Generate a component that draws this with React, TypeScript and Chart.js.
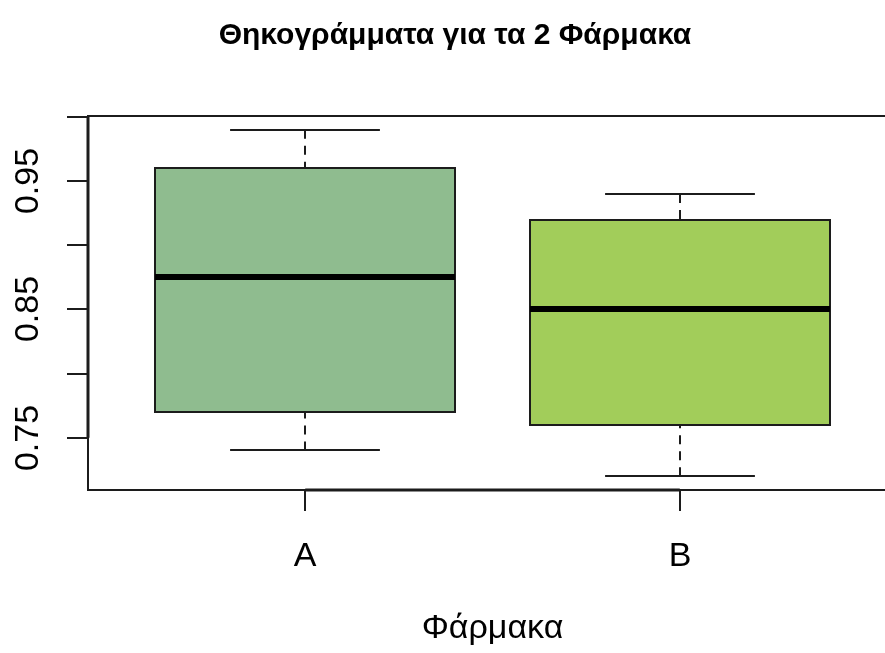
import { useEffect, useRef } from 'react';
import { Chart, registerables } from 'chart.js';

Chart.register(...registerables);

// Five-number summaries for each drug
const categories = ['A', 'B'];
const lowerWhisker = [0.74, 0.72];
const lowerQuartile = [0.77, 0.76];
const medians = [0.875, 0.85];
const upperQuartile = [0.96, 0.92];
const upperWhisker = [0.99, 0.94];
const boxColors = ['#8FBC8F', '#A2CD5A'];

const yTickValues = [0.75, 0.8, 0.85, 0.9, 0.95, 1.0];
const yTickLabels = ['0.75', '', '0.85', '', '0.95', ''];

const chartTitle = 'Θηκογράμματα για τα 2 Φάρμακα';
const xAxisTitle = 'Φάρμακα';

const FONT = '"Liberation Sans", Arimo, Arial, sans-serif';
const INK = '#1c1c1c';

// R-style extended ranges (4% padding)
const dataMin = Math.min(...lowerWhisker);
const dataMax = Math.max(...upperWhisker);
const yPad = (dataMax - dataMin) * 0.04;
const xPad = categories.length * 0.04;

const seg = (ctx: CanvasRenderingContext2D, x1: number, y1: number, x2: number, y2: number) => {
  ctx.beginPath();
  ctx.moveTo(x1, y1);
  ctx.lineTo(x2, y2);
  ctx.stroke();
};

const boxplotPlugin = {
  id: 'boxplotDecor',
  beforeDatasetsDraw(chart: any) {
    const { ctx } = chart;
    const x = chart.scales.x;
    const y = chart.scales.y;
    const unit = x.getPixelForValue(1) - x.getPixelForValue(0);
    ctx.save();
    ctx.lineCap = 'butt';
    categories.forEach((_, i) => {
      const cx = Math.round(x.getPixelForValue(i + 1));
      const capHalf = unit * 0.2;
      const boxHalf = unit * 0.4;
      ctx.strokeStyle = INK;
      ctx.lineWidth = 2;
      // dashed whiskers, running from the cap toward the box
      ctx.setLineDash([9, 7]);
      seg(ctx, cx, y.getPixelForValue(lowerWhisker[i]), cx, y.getPixelForValue(lowerQuartile[i]));
      seg(ctx, cx, y.getPixelForValue(upperWhisker[i]), cx, y.getPixelForValue(upperQuartile[i]));
      ctx.setLineDash([]);
      // whisker caps
      const lw = Math.round(y.getPixelForValue(lowerWhisker[i]));
      const uw = Math.round(y.getPixelForValue(upperWhisker[i]));
      seg(ctx, cx - capHalf, lw, cx + capHalf, lw);
      seg(ctx, cx - capHalf, uw, cx + capHalf, uw);
      // box from lower to upper quartile
      const top = Math.round(y.getPixelForValue(upperQuartile[i]));
      const bottom = Math.round(y.getPixelForValue(lowerQuartile[i]));
      const left = Math.round(cx - boxHalf);
      const right = Math.round(cx + boxHalf);
      ctx.fillStyle = boxColors[i];
      ctx.fillRect(left, top, right - left, bottom - top);
      ctx.strokeRect(left, top, right - left, bottom - top);
      // median
      ctx.strokeStyle = '#000';
      ctx.lineWidth = 6;
      const my = Math.round(y.getPixelForValue(medians[i]));
      seg(ctx, left, my, right, my);
    });
    ctx.restore();
  },
  afterDraw(chart: any) {
    const { ctx, chartArea } = chart;
    const x = chart.scales.x;
    const y = chart.scales.y;
    ctx.save();
    ctx.strokeStyle = INK;
    ctx.lineWidth = 2;
    // plot frame
    ctx.strokeRect(chartArea.left, chartArea.top, chartArea.right - chartArea.left, chartArea.bottom - chartArea.top);

    // y axis
    const yFirst = y.getPixelForValue(yTickValues[0]);
    const yLast = y.getPixelForValue(yTickValues[yTickValues.length - 1]);
    ctx.lineWidth = 3;
    seg(ctx, chartArea.left, yFirst, chartArea.left, yLast);
    ctx.lineWidth = 2;
    ctx.fillStyle = '#000';
    ctx.font = `34px ${FONT}`;
    yTickValues.forEach((v, i) => {
      const py = Math.round(y.getPixelForValue(v));
      seg(ctx, chartArea.left - 21, py, chartArea.left, py);
      if (yTickLabels[i]) {
        ctx.save();
        ctx.translate(38, py);
        ctx.rotate(-Math.PI / 2);
        ctx.textAlign = 'center';
        ctx.textBaseline = 'alphabetic';
        ctx.fillText(yTickLabels[i], 0, 0);
        ctx.restore();
      }
    });

    // x axis
    const xFirst = x.getPixelForValue(1);
    const xLast = x.getPixelForValue(categories.length);
    ctx.lineWidth = 3;
    seg(ctx, xFirst, chartArea.bottom, xLast, chartArea.bottom);
    ctx.lineWidth = 2;
    ctx.textAlign = 'center';
    ctx.textBaseline = 'alphabetic';
    categories.forEach((c, i) => {
      const px = Math.round(x.getPixelForValue(i + 1));
      seg(ctx, px, chartArea.bottom, px, chartArea.bottom + 21);
      ctx.fillText(c, px, 566);
    });

    // axis title
    const midX = (chartArea.left + chartArea.right) / 2;
    ctx.fillText(xAxisTitle, midX, 638);

    // main title
    ctx.font = `bold 30px ${FONT}`;
    ctx.fillText(chartTitle, 455, 44);
    ctx.restore();
  },
};

export default function App() {
  const canvasRef = useRef<HTMLCanvasElement | null>(null);

  useEffect(() => {
    const canvas = canvasRef.current;
    if (!canvas) return;
    const chart = new Chart(canvas, {
      type: 'scatter',
      data: {
        datasets: [
          {
            // median markers (the boxes themselves are drawn by the plugin)
            data: categories.map((_, i) => ({ x: i + 1, y: medians[i] })),
            pointRadius: 0,
            showLine: false,
          },
        ],
      },
      options: {
        responsive: false,
        animation: false,
        devicePixelRatio: 1,
        layout: { padding: { left: 88, top: 116, right: 13, bottom: 163 } },
        plugins: { legend: { display: false }, tooltip: { enabled: false }, title: { display: false } },
        scales: {
          x: {
            type: 'linear',
            display: false,
            offset: false,
            min: 0.5 - xPad,
            max: categories.length + 0.5 + xPad,
            grid: { display: false },
          },
          y: {
            type: 'linear',
            display: false,
            min: dataMin - yPad,
            max: dataMax + yPad,
            grid: { display: false },
          },
        },
      },
      plugins: [boxplotPlugin],
    });
    return () => chart.destroy();
  }, []);

  return (
    <div style={{ position: 'fixed', left: 0, top: 0, width: 885, height: 653, overflow: 'hidden', background: '#fff' }}>
      <canvas ref={canvasRef} width={910} height={653} style={{ width: 910, height: 653, display: 'block' }} />
    </div>
  );
}
